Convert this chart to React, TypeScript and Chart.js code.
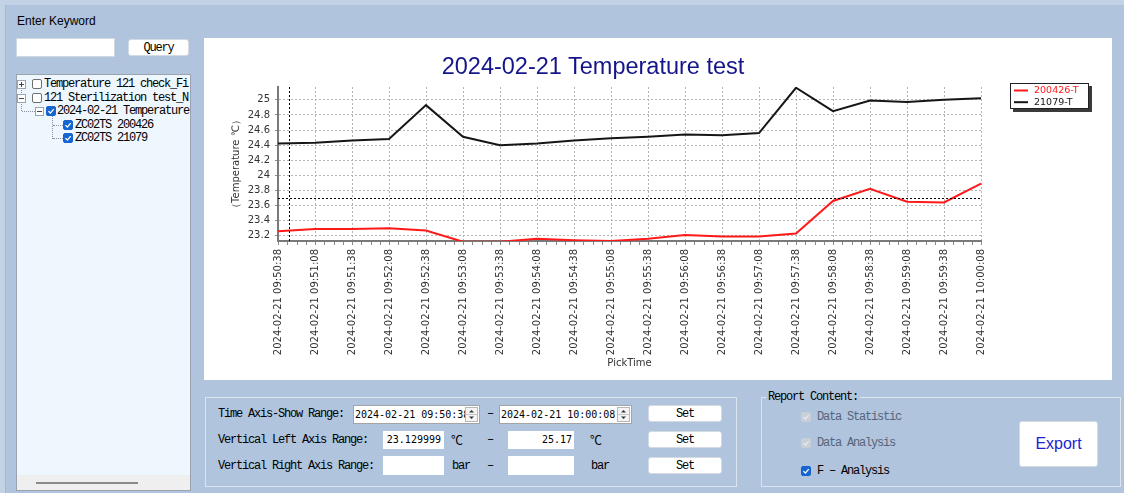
import React, { useEffect, useRef } from "react";
import { Chart, registerables } from "chart.js";

Chart.register(...registerables);

const CHART_TITLE = "2024-02-21 Temperature test";
const TIME_LABELS = [
  "2024-02-21 09:50:38", "2024-02-21 09:51:08", "2024-02-21 09:51:38", "2024-02-21 09:52:08",
  "2024-02-21 09:52:38", "2024-02-21 09:53:08", "2024-02-21 09:53:38", "2024-02-21 09:54:08",
  "2024-02-21 09:54:38", "2024-02-21 09:55:08", "2024-02-21 09:55:38", "2024-02-21 09:56:08",
  "2024-02-21 09:56:38", "2024-02-21 09:57:08", "2024-02-21 09:57:38", "2024-02-21 09:58:08",
  "2024-02-21 09:58:38", "2024-02-21 09:59:08", "2024-02-21 09:59:38", "2024-02-21 10:00:08",
];
const SERIES_LABELS = ["200426-T", "21079-T"];
const SERIES_COLORS = ["#ff1a1a", "#161616"];
const TEMP_200426 = [
  23.26, 23.29, 23.29, 23.3, 23.27, 23.12, 23.12, 23.16, 23.14, 23.13,
  23.16, 23.21, 23.19, 23.19, 23.23, 23.66, 23.82, 23.65, 23.64, 23.89,
];
const TEMP_21079 = [
  24.42, 24.43, 24.46, 24.48, 24.93, 24.51, 24.4, 24.42, 24.46, 24.49,
  24.51, 24.54, 24.53, 24.56, 25.16, 24.85, 24.99, 24.97, 25.0, 25.02,
];
const Y_AXIS_MIN = 23.129999;
const Y_AXIS_MAX = 25.17;
const Y_AXIS_STEP = 0.2;
const CURSOR_TIME_INDEX = 0.3;
const CURSOR_TEMP = 23.7;
const X_AXIS_TITLE = "PickTime";
const Y_AXIS_TITLE = "（Temperature ℃）";

const AXIS_FONT = { family: '"DejaVu Sans", sans-serif', size: 10 };

const minorTickPlugin = {
  id: "minorTicks",
  afterDraw(chart: any) {
    const xs = chart.scales.x;
    const { ctx, chartArea } = chart;
    const n = chart.data.labels.length;
    ctx.save();
    ctx.strokeStyle = "#8a8a8a";
    ctx.lineWidth = 1;
    for (let i = 0; i < n - 1; i++) {
      for (let k = 1; k < 4; k++) {
        const x = Math.round(xs.getPixelForValue(i + k / 4)) + 0.5;
        ctx.beginPath();
        ctx.moveTo(x, chartArea.bottom + 1);
        ctx.lineTo(x, chartArea.bottom + 4);
        ctx.stroke();
      }
    }
    ctx.restore();
  },
};

const crosshairPlugin = {
  id: "crosshair",
  afterDatasetsDraw(chart: any) {
    const { ctx, chartArea, scales } = chart;
    const x = Math.round(scales.x.getPixelForValue(CURSOR_TIME_INDEX)) + 0.5;
    const y = Math.round(scales.y.getPixelForValue(CURSOR_TEMP)) + 0.5;
    ctx.save();
    ctx.strokeStyle = "#000";
    ctx.lineWidth = 1;
    ctx.setLineDash([2, 2]);
    ctx.beginPath();
    ctx.moveTo(x, chartArea.top);
    ctx.lineTo(x, chartArea.bottom);
    ctx.moveTo(chartArea.left, y);
    ctx.lineTo(chartArea.right, y);
    ctx.stroke();
    ctx.restore();
  },
};

const boxLegendPlugin = {
  id: "boxLegend",
  afterDraw(chart: any) {
    const { ctx, chartArea } = chart;
    const bx = Math.round(chartArea.right + 29);
    const by = Math.round(chartArea.top - 4);
    const bw = 79;
    const bh = 26;
    ctx.save();
    ctx.fillStyle = "#3a3a3a";
    ctx.fillRect(bx + 3, by + 3, bw, bh);
    ctx.fillStyle = "#fff";
    ctx.fillRect(bx, by, bw, bh);
    ctx.strokeStyle = "#222";
    ctx.lineWidth = 1;
    ctx.strokeRect(bx + 0.5, by + 0.5, bw - 1, bh - 1);
    ctx.font = '9.5px "DejaVu Sans", sans-serif';
    ctx.textBaseline = "middle";
    chart.data.datasets.forEach((ds: any, i: number) => {
      const y = by + 7.5 + i * 11.7;
      ctx.strokeStyle = ds.borderColor;
      ctx.lineWidth = 2;
      ctx.beginPath();
      ctx.moveTo(bx + 4, y);
      ctx.lineTo(bx + 18, y);
      ctx.stroke();
      ctx.fillStyle = ds.borderColor;
      ctx.fillText(ds.label, bx + 24, y + 0.5);
    });
    ctx.restore();
  },
};

const MONO: React.CSSProperties = {
  fontFamily: '"Liberation Mono", "DejaVu Sans Mono", monospace',
  fontSize: 12,
  letterSpacing: "-1.2px",
  lineHeight: "14px",
  whiteSpace: "nowrap",
  color: "#000",
};
const INPUT_FONT: React.CSSProperties = {
  fontFamily: '"DejaVu Sans Mono", monospace',
  fontSize: 10,
  lineHeight: "14px",
  whiteSpace: "nowrap",
  color: "#000",
};

function T({ x, cy, children, style }: any) {
  return (
    <div style={{ position: "absolute", left: x, top: cy - 7, ...MONO, ...style }}>{children}</div>
  );
}

function Check({ x, y, kind, size = 10 }: any) {
  const bg = kind === "blue" ? "#1565d0" : kind === "disabled" ? "#c9cfd6" : "#fff";
  const border = kind === "blue" ? "#1565d0" : kind === "disabled" ? "#c9cfd6" : "#707070";
  return (
    <div
      style={{
        position: "absolute", left: x, top: y, width: size, height: size, boxSizing: "border-box",
        background: bg, border: `1px solid ${border}`, borderRadius: 2,
      }}
    >
      {kind !== "empty" && (
        <svg width={size - 2} height={size - 2} style={{ position: "absolute", left: 0, top: 0 }}>
          <polyline
            points={`${(size - 2) * 0.18},${(size - 2) * 0.52} ${(size - 2) * 0.42},${(size - 2) * 0.76} ${(size - 2) * 0.84},${(size - 2) * 0.26}`}
            fill="none"
            stroke={kind === "disabled" ? "#e8ecf0" : "#fff"}
            strokeWidth={1.3}
          />
        </svg>
      )}
    </div>
  );
}

function Expander({ cx, cy, plus }: any) {
  return (
    <div
      style={{
        position: "absolute", left: cx - 4, top: cy - 4, width: 9, height: 9, boxSizing: "border-box",
        border: "1px solid #9aa4b0", background: "#fff",
      }}
    >
      <div style={{ position: "absolute", left: 1, top: 3, width: 5, height: 1, background: "#445" }} />
      {plus && <div style={{ position: "absolute", left: 3, top: 1, width: 1, height: 5, background: "#445" }} />}
    </div>
  );
}

function Btn({ x, y, w, h, children }: any) {
  return (
    <div
      style={{
        position: "absolute", left: x, top: y, width: w, height: h, boxSizing: "border-box",
        background: "#fff", border: "1px solid #d4dae2", borderRadius: 3,
        display: "flex", alignItems: "center", justifyContent: "center", ...MONO,
      }}
    >
      {children}
    </div>
  );
}

function Box({ x, y, w, h, children, style }: any) {
  return (
    <div
      style={{
        position: "absolute", left: x, top: y, width: w, height: h, boxSizing: "border-box",
        background: "#fff", overflow: "hidden", ...style,
      }}
    >
      {children}
    </div>
  );
}

function Spinner({ x, y }: any) {
  return (
    <div
      style={{
        position: "absolute", left: x, top: y, width: 13, height: 15, boxSizing: "border-box",
        border: "1px solid #b8b8b8", background: "#f4f4f4",
      }}
    >
      <div style={{ position: "absolute", left: 0, top: 6, width: 11, height: 1, background: "#c8c8c8" }} />
      <svg width={11} height={13} style={{ position: "absolute", left: 0, top: 0 }}>
        <polygon points="3,4.5 8,4.5 5.5,2" fill="#333" />
        <polygon points="3,8.5 8,8.5 5.5,11" fill="#333" />
      </svg>
    </div>
  );
}

export default function App() {
  const canvasRef = useRef<HTMLCanvasElement>(null);

  useEffect(() => {
    const canvas = canvasRef.current;
    if (!canvas) return;
    const chart = new Chart(canvas, {
      type: "line",
      data: {
        labels: TIME_LABELS,
        datasets: [
          {
            label: SERIES_LABELS[0], data: TEMP_200426, borderColor: SERIES_COLORS[0],
            backgroundColor: SERIES_COLORS[0], borderWidth: 2, pointRadius: 0, tension: 0,
          },
          {
            label: SERIES_LABELS[1], data: TEMP_21079, borderColor: SERIES_COLORS[1],
            backgroundColor: SERIES_COLORS[1], borderWidth: 2, pointRadius: 0, tension: 0,
          },
        ],
      },
      options: {
        responsive: false,
        animation: false,
        devicePixelRatio: 1,
        events: [],
        layout: { padding: { left: 22, right: 131, top: 49, bottom: 7 } },
        plugins: {
          legend: { display: false },
          title: { display: false },
          tooltip: { enabled: false },
        },
        scales: {
          x: {
            type: "category",
            offset: false,
            grid: { color: "#b4b4b4", tickLength: 4, tickColor: "#8a8a8a", tickBorderDash: [] },
            border: { display: true, color: "#7a7a7a", width: 2, dash: [2, 2] },
            ticks: {
              autoSkip: false, maxRotation: 90, minRotation: 90, padding: 4,
              color: "#333", font: AXIS_FONT,
            },
            title: { display: true, text: X_AXIS_TITLE, color: "#333", font: AXIS_FONT, padding: { top: 4, bottom: 4 } },
            afterFit: (s: any) => {
              s.height = 132;
              s.paddingLeft = 0;
              s.paddingRight = 0;
            },
          },
          y: {
            min: Y_AXIS_MIN,
            max: Y_AXIS_MAX,
            grid: { color: "#b4b4b4", tickLength: 3, tickColor: "#8a8a8a", tickBorderDash: [] },
            border: { display: true, color: "#7a7a7a", width: 2, dash: [2, 2] },
            ticks: {
              stepSize: Y_AXIS_STEP,
              includeBounds: false,
              padding: 5,
              color: "#333",
              font: AXIS_FONT,
              callback: (v: any) => String(+Number(v).toFixed(1)),
            },
            title: { display: true, text: Y_AXIS_TITLE, color: "#333", font: AXIS_FONT, padding: { top: 4, bottom: 4 } },
            afterFit: (s: any) => {
              s.width = 52;
            },
          },
        },
      } as any,
      plugins: [minorTickPlugin, crosshairPlugin, boxLegendPlugin],
    });
    return () => chart.destroy();
  }, []);

  return (
    <div
      style={{
        position: "fixed", left: 0, top: 0, width: 1124, height: 493, overflow: "hidden",
        background: "#b0c4de", fontFamily: '"Liberation Sans", Arial, sans-serif',
      }}
    >
      {/* window edges */}
      <div style={{ position: "absolute", left: 0, top: 0, width: 1124, height: 5, background: "#c3d2e5" }} />
      <div style={{ position: "absolute", left: 0, top: 0, width: 5, height: 493, background: "#c3d2e5" }} />
      <div style={{ position: "absolute", left: 5, top: 5, width: 1, height: 488, background: "#a3b6cf" }} />

      {/* search area */}
      <div style={{ position: "absolute", left: 17, top: 14, fontSize: 12, lineHeight: "14px", color: "#000" }}>
        Enter Keyword
      </div>
      <Box x={16} y={38} w={99} h={19} style={{ border: "1px solid #d0d8e2" }} />
      <Btn x={128} y={39} w={61} h={17}>Query</Btn>

      {/* tree */}
      <div
        style={{
          position: "absolute", left: 16, top: 74, width: 175, height: 417, boxSizing: "border-box",
          background: "#eef6fe", border: "1px solid #9aa3ae", overflow: "hidden",
        }}
      >
        <div style={{ position: "absolute", left: -17, top: -75, width: 300, height: 500 }}>
          {/* connectors */}
          <div style={{ position: "absolute", left: 21, top: 88, width: 0, height: 5, borderLeft: "1px dotted #8890a0" }} />
          <div style={{ position: "absolute", left: 21, top: 102, width: 0, height: 9, borderLeft: "1px dotted #8890a0" }} />
          <div style={{ position: "absolute", left: 22, top: 111, width: 13, height: 0, borderTop: "1px dotted #8890a0" }} />
          <div style={{ position: "absolute", left: 52, top: 116, width: 0, height: 23, borderLeft: "1px dotted #8890a0" }} />
          <div style={{ position: "absolute", left: 53, top: 125, width: 10, height: 0, borderTop: "1px dotted #8890a0" }} />
          <div style={{ position: "absolute", left: 53, top: 138, width: 10, height: 0, borderTop: "1px dotted #8890a0" }} />

          <Expander cx={21} cy={84} plus />
          <Check x={32} y={79} kind="empty" />
          <T x={44} cy={84}>Temperature 121 check_Fi</T>

          <Expander cx={21} cy={98} />
          <Check x={32} y={93} kind="empty" />
          <T x={44} cy={98}>121 Sterilization test_N</T>

          <Expander cx={39} cy={111} />
          <Check x={46} y={106} kind="blue" />
          <T x={57} cy={111}>2024-02-21 Temperature</T>

          <Check x={63} y={120} kind="blue" />
          <T x={75} cy={125}>ZC02TS 200426</T>

          <Check x={63} y={133} kind="blue" />
          <T x={75} cy={138}>ZC02TS 21079</T>
        </div>
        <div style={{ position: "absolute", left: 0, bottom: 0, width: 173, height: 15, background: "#efefef" }}>
          <div style={{ position: "absolute", left: 19, top: 7, width: 102, height: 2, background: "#8a8a8a" }} />
        </div>
      </div>

      {/* chart panel */}
      <div style={{ position: "absolute", left: 204, top: 38, width: 908, height: 342, background: "#fff" }}>
        <canvas ref={canvasRef} width={908} height={342} style={{ display: "block", width: 908, height: 342 }} />
        <div
          style={{
            position: "absolute", left: 0, top: 15.5, width: 778, textAlign: "center",
            fontSize: 23.5, lineHeight: "24px", color: "#15158a", whiteSpace: "nowrap",
          }}
        >
          {CHART_TITLE}
        </div>
      </div>

      {/* bottom-left group */}
      <div
        style={{
          position: "absolute", left: 205, top: 397, width: 532, height: 90, boxSizing: "border-box",
          border: "1px solid #dbe3ed",
        }}
      />
      <T x={218} cy={414}>Time Axis-Show Range:</T>
      <Box x={353} y={405} w={127} h={19} style={{ border: "1px solid #a4a4a4" }}>
        <div style={{ position: "absolute", left: 1, top: 2, width: 110, overflow: "hidden", ...INPUT_FONT }}>
          2024-02-21 09:50:38
        </div>
        <Spinner x={111} y={1} />
      </Box>
      <T x={487} cy={414}>–</T>
      <Box x={499} y={405} w={133} h={19} style={{ border: "1px solid #a4a4a4" }}>
        <div style={{ position: "absolute", left: 1, top: 2, ...INPUT_FONT }}>2024-02-21 10:00:08</div>
        <Spinner x={117} y={1} />
      </Box>
      <Btn x={648} y={405} w={74} h={17}>Set</Btn>

      <T x={218} cy={440}>Vertical Left Axis Range:</T>
      <Box x={383} y={431} w={61} h={18}>
        <div style={{ position: "absolute", right: 3, top: 2, ...INPUT_FONT }}>23.129999</div>
      </Box>
      <div style={{ position: "absolute", left: 451, top: 432, fontFamily: '"Noto Sans CJK SC", sans-serif', fontSize: 12, lineHeight: "16px" }}>℃</div>
      <T x={487} cy={440}>–</T>
      <Box x={508} y={431} w={66} h={18}>
        <div style={{ position: "absolute", right: 2, top: 2, ...INPUT_FONT }}>25.17</div>
      </Box>
      <div style={{ position: "absolute", left: 590, top: 432, fontFamily: '"Noto Sans CJK SC", sans-serif', fontSize: 12, lineHeight: "16px" }}>℃</div>
      <Btn x={648} y={431} w={74} h={17}>Set</Btn>

      <T x={218} cy={466}>Vertical Right Axis Range:</T>
      <Box x={383} y={456} w={61} h={19} />
      <T x={452} cy={466}>bar</T>
      <T x={487} cy={466}>–</T>
      <Box x={508} y={456} w={66} h={19} />
      <T x={591} cy={466}>bar</T>
      <Btn x={648} y={457} w={74} h={17}>Set</Btn>

      {/* report content group */}
      <div
        style={{
          position: "absolute", left: 761, top: 397, width: 360, height: 90, boxSizing: "border-box",
          border: "1px solid #dbe3ed",
        }}
      />
      <T x={766} cy={397} style={{ background: "#b0c4de", paddingLeft: 2, paddingRight: 2 }}>Report Content:</T>
      <Check x={801} y={412} kind="disabled" />
      <T x={817} cy={417} style={{ color: "#56647a" }}>Data Statistic</T>
      <Check x={801} y={438} kind="disabled" />
      <T x={817} cy={443} style={{ color: "#56647a" }}>Data Analysis</T>
      <Check x={801} y={466} kind="blue" />
      <T x={817} cy={471}>F – Analysis</T>
      <div
        style={{
          position: "absolute", left: 1019, top: 421, width: 79, height: 46, boxSizing: "border-box",
          background: "#fff", border: "1px solid #d4dae2", borderRadius: 3,
          display: "flex", alignItems: "center", justifyContent: "center",
          fontSize: 16, color: "#1e1ed2",
        }}
      >
        Export
      </div>
    </div>
  );
}
